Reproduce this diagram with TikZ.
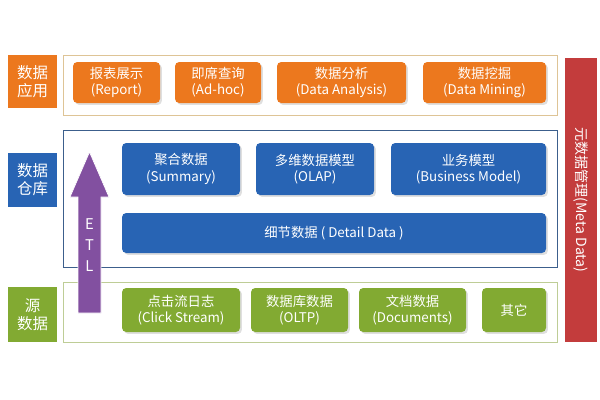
\documentclass[tikz,border=0pt]{standalone}
\usepackage{fontspec}
\setmainfont{Noto Sans CJK SC}
\usetikzlibrary{arrows.meta,positioning,shadows}
\definecolor{appor}{RGB}{236,120,30}
\definecolor{appframe}{RGB}{222,196,150}
\definecolor{dwblue}{RGB}{40,100,180}
\definecolor{dwframe}{RGB}{60,95,140}
\definecolor{srcgreen}{RGB}{130,170,50}
\definecolor{srcframe}{RGB}{190,205,150}
\definecolor{metared}{RGB}{195,60,60}
\definecolor{etlpurple}{RGB}{130,80,160}
\tikzset{%
       layer/.style = { draw=#1, line width=1.2pt, fill=white },
        side/.style = { fill=#1, text=white, font=\fontsize{22}{26}\selectfont, align=center, inner sep=0pt },
        item/.style = { fill=#1, text=white, rounded corners=6pt, font=\fontsize{19}{23}\selectfont,
                        align=center, inner sep=0pt, drop shadow={opacity=.25} }
}
\newcommand{\itembox}[6]{\node[item=#1, minimum width=#4*0.05cm, minimum height=#5*0.05cm] (#2) at (#3) {#6};}
\begin{document}
\begin{tikzpicture}[x=0.05cm,y=-0.05cm]
\useasboundingbox (0,0) rectangle (600,400);
% layers
\draw[layer=appframe] (63,55) rectangle (557,115);
\draw[layer=dwframe] (63,130) rectangle (557,267);
\draw[layer=srcframe] (63,282) rectangle (557,342);
% side labels
\node[side=appor, minimum width=49*0.05cm, minimum height=53*0.05cm] (app) at (32.5,81.5) {数据\\应用};
\node[side=dwblue, minimum width=49*0.05cm, minimum height=54*0.05cm] (dw) at (32.5,180) {数据\\仓库};
\node[side=srcgreen, minimum width=49*0.05cm, minimum height=55*0.05cm] (src) at (32.5,314.5) {源\\数据};
% application
\itembox{appor}{report}{116.5,82.5}{87}{41}{报表展示\\(Report)}
\itembox{appor}{adhoc}{218,82.5}{86}{41}{即席查询\\(Ad-hoc)}
\itembox{appor}{analysis}{341.5,82.5}{129}{41}{数据分析\\(Data Analysis)}
\itembox{appor}{mining}{484.5,82.5}{123}{41}{数据挖掘\\(Data Mining)}
% warehouse
\itembox{dwblue}{summary}{181,169}{118}{52}{聚合数据\\(Summary)}
\itembox{dwblue}{olap}{315,169}{118}{52}{多维数据模型\\(OLAP)}
\itembox{dwblue}{business}{468.5,169}{155}{52}{业务模型\\(Business Model)}
\itembox{dwblue}{detail}{334,233}{424}{40}{细节数据 ( Detail Data )}
% source
\itembox{srcgreen}{click}{181,310}{118}{44}{点击流日志\\(Click Stream)}
\itembox{srcgreen}{oltp}{299.5,310}{97}{44}{数据库数据\\(OLTP)}
\itembox{srcgreen}{docs}{412.5,310}{107}{44}{文档数据\\(Documents)}
\itembox{srcgreen}{other}{514,310}{64}{44}{其它}
% meta data
\node[fill=metared, text=white, minimum width=284*0.05cm, minimum height=32*0.05cm, rotate=-90,
      font=\fontsize{20}{24}\selectfont, inner sep=0pt] (meta) at (581,200) {元数据管理(Meta Data)};
% ETL
\draw[fill=etlpurple, draw=white, line width=1pt]
  (78,313) -- (78,197) -- (70,197) -- (89.5,152) -- (109,197) -- (101,197) -- (101,313) -- cycle;
\node[text=white, font=\fontsize{21}{30}\selectfont, align=center] (etl) at (89.5,245) {E\\T\\L};
\end{tikzpicture}
\end{document}
